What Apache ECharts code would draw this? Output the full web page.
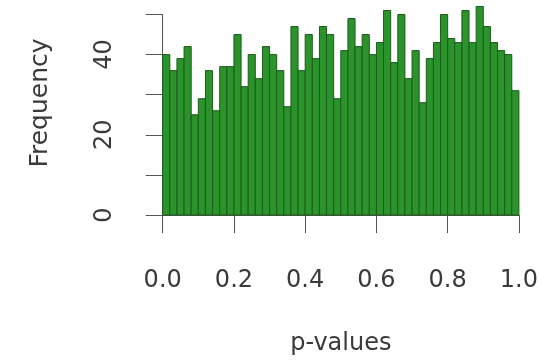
<!DOCTYPE html>
<html>
<head>
<meta charset="utf-8">
<script src="https://cdn.jsdelivr.net/npm/echarts@6/dist/echarts.min.js"></script>
<style>
  html, body { margin: 0; padding: 0; background: #ffffff; }
  #chart { width: 541px; height: 363px; }
</style>
</head>
<body>
<div id="chart"></div>
<script>
// Histogram of p-values, 50 bins of width 0.02 on [0, 1]
const binWidth = 0.02;
const binStarts = [
  0.00, 0.02, 0.04, 0.06, 0.08, 0.10, 0.12, 0.14, 0.16, 0.18,
  0.20, 0.22, 0.24, 0.26, 0.28, 0.30, 0.32, 0.34, 0.36, 0.38,
  0.40, 0.42, 0.44, 0.46, 0.48, 0.50, 0.52, 0.54, 0.56, 0.58,
  0.60, 0.62, 0.64, 0.66, 0.68, 0.70, 0.72, 0.74, 0.76, 0.78,
  0.80, 0.82, 0.84, 0.86, 0.88, 0.90, 0.92, 0.94, 0.96, 0.98
];
const counts = [
  40, 36, 39, 42, 25, 29, 36, 26, 37, 37,
  45, 32, 40, 34, 42, 40, 36, 27, 47, 36,
  45, 39, 47, 45, 29, 41, 49, 42, 45, 40,
  43, 51, 38, 50, 34, 41, 28, 39, 43, 50,
  44, 43, 51, 43, 52, 47, 43, 41, 40, 31
];
const xTickLabels = ['0.0', '0.2', '0.4', '0.6', '0.8', '1.0'];
const yTickLabels = [0, 20, 40];

const FONT = 'DejaVu Sans';
const TEXT = '#3a3a3a';
const AXIS = '#555555';

const chart = echarts.init(document.getElementById('chart'), null, { renderer: 'canvas' });

const histData = binStarts.map((s, i) => [s, s + binWidth, counts[i]]);

chart.setOption({
  backgroundColor: '#ffffff',
  animation: false,
  grid: { left: 162.7, right: 21, top: 14.5, bottom: 148, containLabel: false },
  xAxis: {
    type: 'value', min: 0, max: 1, interval: 0.2,
    offset: 8,
    axisLine: { show: true, lineStyle: { color: AXIS, width: 1 } },
    axisTick: { show: true, length: 18, lineStyle: { color: AXIS, width: 1 } },
    splitLine: { show: false },
    axisLabel: {
      margin: 46, color: TEXT, fontFamily: FONT, fontSize: 24,
      formatter: v => xTickLabels[Math.round(v / 0.2)]
    },
    name: 'p-values', nameLocation: 'middle', nameGap: 109,
    nameTextStyle: { color: TEXT, fontFamily: FONT, fontSize: 24 }
  },
  yAxis: {
    type: 'value', min: 0, max: 50, interval: 10,
    offset: 16,
    axisLine: { show: true, lineStyle: { color: AXIS, width: 1 } },
    axisTick: { show: true, length: 17, lineStyle: { color: AXIS, width: 1 } },
    splitLine: { show: false },
    axisLabel: {
      rotate: 90, margin: 30, color: TEXT, fontFamily: FONT, fontSize: 24,
      formatter: v => (yTickLabels.indexOf(v) >= 0 ? String(v) : '')
    }
  },
  graphic: [{
    type: 'text', x: 40, y: 103, rotation: Math.PI / 2,
    style: {
      text: 'Frequency', fill: TEXT, font: '25px "DejaVu Sans"',
      textAlign: 'center', textVerticalAlign: 'middle'
    }
  }],
  series: [{
    type: 'custom',
    clip: false,
    data: histData,
    encode: { x: [0, 1], y: 2 },
    renderItem: function (params, api) {
      const p0 = api.coord([api.value(0), api.value(2)]);
      const p1 = api.coord([api.value(1), 0]);
      return {
        type: 'rect',
        shape: { x: p0[0], y: p0[1], width: p1[0] - p0[0], height: p1[1] - p0[1] },
        style: { fill: '#2a942a', stroke: '#1e5a1e', lineWidth: 1 }
      };
    }
  }]
});
</script>
</body>
</html>
